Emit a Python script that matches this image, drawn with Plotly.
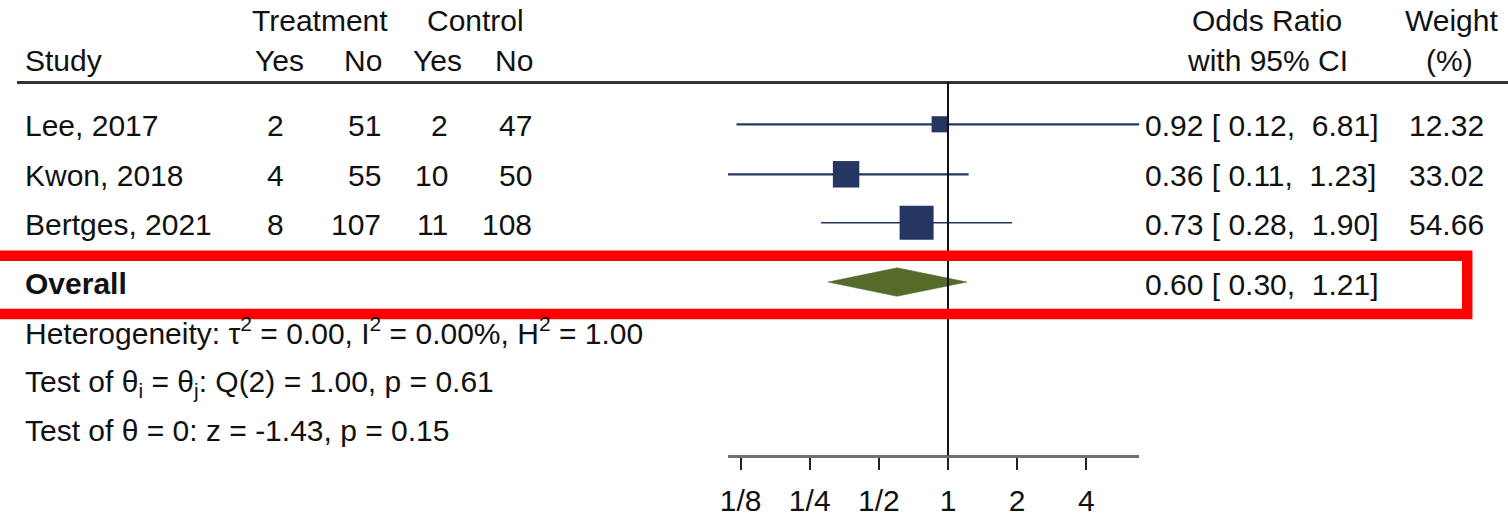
import math
import plotly.graph_objects as go

# ---------------- data ----------------
studies = ["Lee, 2017", "Kwon, 2018", "Bertges, 2021"]
treat_yes = [2, 4, 8]
treat_no = [51, 55, 107]
ctrl_yes = [2, 10, 11]
ctrl_no = [47, 50, 108]
odds_ratio = [0.92, 0.36, 0.73]
ci_low = [0.12, 0.11, 0.28]
ci_high = [6.81, 1.23, 1.90]
weights = [12.32, 33.02, 54.66]
overall_or = 0.60
overall_low = 0.30
overall_high = 1.21
tick_vals = [1/8, 1/4, 1/2, 1, 2, 4]
tick_text = ["1/8", "1/4", "1/2", "1", "2", "4"]
het_text = "Heterogeneity: τ<sup>2</sup> = 0.00, I<sup>2</sup> = 0.00%, H<sup>2</sup> = 1.00"
test1_text = "Test of θ<sub>i</sub> = θ<sub>j</sub>: Q(2) = 1.00, p = 0.61"
test2_text = "Test of θ = 0: z = -1.43, p = 0.15"

# ---------------- layout constants ----------------
W, H = 1508, 517
FONT = "Liberation Sans, Arial, Helvetica, sans-serif"
FS = 30
X_ONE = 945.0          # pixel of OR = 1
PX_LOG2 = 69.5         # pixels per doubling
AXIS_Y = 469.0         # pixel row of x-axis line
ROW_Y = [128, 179.5, 229.5]
OVERALL_Y = 290.5
NAVY = "#243661"
OLIVE = "#566B2A"

def px_of(v):
    return X_ONE + PX_LOG2 * math.log2(v)

lo_all = min(ci_low + [overall_low])
hi_all = max(ci_high + [overall_high])
dom = [px_of(lo_all) / W, px_of(hi_all) / W]
rng = [math.log10(lo_all), math.log10(hi_all)]

def xp(px):
    return px / W

def yp(py):
    return 1 - py / H

fig = go.Figure()

line_widths = [2.2, 2.2, 1.5]
for i in range(len(studies)):
    fig.add_trace(go.Scatter(
        x=[ci_low[i], ci_high[i]], y=[ROW_Y[i], ROW_Y[i]], mode="lines",
        line=dict(color=NAVY, width=line_widths[i]), showlegend=False, hoverinfo="skip"))

fig.add_trace(go.Scatter(
    x=odds_ratio, y=ROW_Y, mode="markers",
    marker=dict(symbol="square", color=NAVY, opacity=1,
                size=[4.6 * math.sqrt(w) for w in weights], line=dict(width=0)),
    showlegend=False, hoverinfo="skip"))

dh = 14.7
fig.add_trace(go.Scatter(
    x=[overall_low, overall_or, overall_high, overall_or, overall_low],
    y=[OVERALL_Y, OVERALL_Y - dh, OVERALL_Y, OVERALL_Y + dh, OVERALL_Y],
    mode="lines", fill="toself", fillcolor=OLIVE, line=dict(color=OLIVE, width=0.5),
    showlegend=False, hoverinfo="skip"))

ann = []
def txt(text, px, py, anchor="left", bold=False):
    ann.append(dict(text=("<b>%s</b>" % text) if bold else text, x=xp(px), y=yp(py),
                    xref="paper", yref="paper", xanchor=anchor, yanchor="middle",
                    showarrow=False, borderpad=0, borderwidth=0,
                    font=dict(family=FONT, size=FS, color="#111111")))

# headers
HDR1, HDR2 = 21, 62.5
txt("Treatment", 314, HDR1, "center")
txt("Control", 470, HDR1, "center")
txt("Study", 17, HDR2)
txt("Yes", 298, HDR2, "right")
txt("No", 376, HDR2, "right")
txt("Yes", 456, HDR2, "right")
txt("No", 528, HDR2, "right")
txt("Odds Ratio", 1266, HDR1, "center")
txt("with 95% CI", 1266, HDR2, "center")
txt("Weight", 1451, HDR1, "center")
txt("(%)", 1449, HDR2, "center")

NB = "\u00a0"
for i in range(len(studies)):
    y = ROW_Y[i] + 1.5
    txt(studies[i], 17, y)
    txt(str(treat_yes[i]), 277, y, "right")
    txt(str(treat_no[i]), 375, y, "right")
    txt(str(ctrl_yes[i]), 442, y, "right")
    txt(str(ctrl_no[i]), 527, y, "right")
    s = f"{odds_ratio[i]:.2f}{NB}[{NB}{ci_low[i]:.2f},{NB}{NB}{ci_high[i]:.2f}]"
    txt(s, 1143, y)
    txt(f"{weights[i]:.2f}", 1484, y, "right")

txt("Overall", 17, OVERALL_Y + 1.5, bold=True)
txt(f"{overall_or:.2f}{NB}[{NB}{overall_low:.2f},{NB}{NB}{overall_high:.2f}]", 1143, OVERALL_Y + 2)
# superscripts enlarge the text box upward, subscripts downward: compensate
txt(het_text, 17, 341)
txt(test1_text, 17, 395)
txt(test2_text, 17, 443)

shapes = [
    # header rule
    dict(type="line", xref="paper", yref="paper", x0=xp(9), x1=1.0, y0=yp(85), y1=yp(85),
         line=dict(color="#333333", width=3)),
    # no-effect line
    dict(type="line", xref="x", yref="paper", x0=1, x1=1, y0=yp(85), y1=yp(AXIS_Y),
         line=dict(color="#111111", width=2)),
    # red highlight box
    dict(type="rect", xref="paper", yref="paper", x0=-0.02, x1=xp(1467), y0=yp(263.5), y1=yp(323.5),
         line=dict(color="#FF0000", width=10.5), fillcolor="rgba(0,0,0,0)"),
]

fig.update_layout(
    width=W, height=H, margin=dict(l=0, r=0, t=0, b=0),
    paper_bgcolor="white", plot_bgcolor="white",
    annotations=ann, shapes=shapes, showlegend=False,
    xaxis=dict(type="log", domain=dom, range=rng, tickvals=tick_vals, ticktext=tick_text,
               showgrid=False, zeroline=False, showline=True, linecolor="#707070", linewidth=2.5,
               ticks="outside", ticklen=12, tickwidth=2, tickcolor="#222222", ticklabelstandoff=5,
               tickfont=dict(family=FONT, size=FS, color="#111111"), fixedrange=True),
    yaxis=dict(domain=[(H - AXIS_Y) / H, 1], range=[AXIS_Y, 0], visible=False,
               showgrid=False, zeroline=False, fixedrange=True),
)

fig.write_html("out.html", config={"displayModeBar": False, "staticPlot": True},
               post_script="document.body.style.margin='0px';document.body.style.overflow='hidden';")
